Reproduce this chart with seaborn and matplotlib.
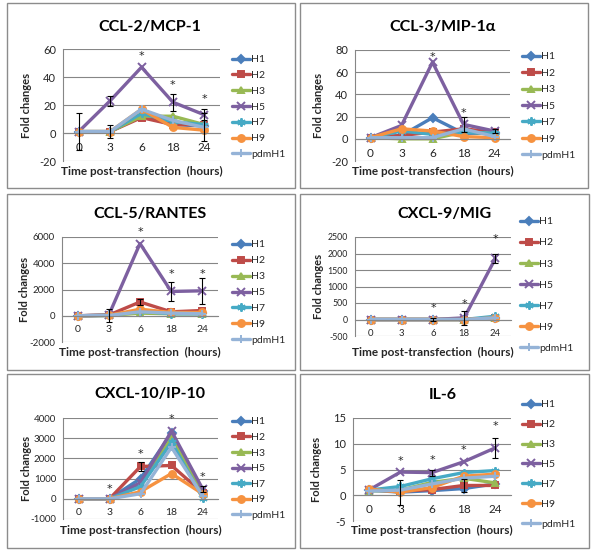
import pandas as pd
import numpy as np
import matplotlib
matplotlib.use("Agg")
import matplotlib.pyplot as plt
from matplotlib.lines import Line2D
from matplotlib.patches import Rectangle
import seaborn as sns

# ---- data ----
times = ["0", "3", "6", "18", "24"]
strains = ["H1", "H2", "H3", "H5", "H7", "H9", "pdmH1"]
colors = ["#4A7EBB", "#BE4B48", "#98B954", "#7D60A0", "#46AAC5", "#F69240", "#95B3D7"]
markers = ["D", "s", "^", "x", (6, 2, 0), "o", "+"]
msizes = [4, 4.5, 5, 6, 6, 5, 6]

# rows follow `strains`, columns follow `times`
ccl2 = [[1, 1, 12, 6, 5],
        [1, 1, 11, 6, 6],
        [1, 1, 12, 12, 6],
        [1, 23, 47, 22, 13],
        [1, 1, 14, 8, 6],
        [1, 1, 17, 4, 2],
        [1, 1, 17, 9, 4]]
ccl3 = [[1, 3, 19, 5, 5],
        [1, 3, 6, 9, 6],
        [1, 0, 0, 6, 5],
        [1, 12, 69, 13, 7],
        [1, 7, 4, 6, 5],
        [1, 9, 7, 2, 1],
        [1, 1, 1, 9, 2]]
ccl5 = [[0, 30, 300, 200, 200],
        [0, 50, 1050, 300, 400],
        [0, 20, 200, 150, 150],
        [0, 50, 5500, 1850, 1900],
        [0, 30, 350, 150, 150],
        [0, 30, 500, 250, 250],
        [0, 20, 300, 200, 150]]
cxcl9 = [[0, 0, 0, 0, 50],
         [0, 0, 0, 0, 50],
         [0, 0, 0, 0, 50],
         [0, 0, 0, 50, 1850],
         [0, 0, 0, 0, 100],
         [0, 0, 0, 0, 50],
         [0, 0, 0, 0, 50]]
cxcl10 = [[0, 0, 1000, 3250, 400],
          [0, 0, 1600, 1650, 300],
          [0, 0, 700, 3000, 300],
          [0, 0, 800, 3350, 500],
          [0, 0, 600, 2800, 50],
          [0, 0, 350, 1250, 250],
          [0, 0, 250, 2550, 150]]
il6 = [[1.0, 0.6, 0.9, 1.3, 2.2],
       [1.0, 0.8, 1.1, 1.9, 1.9],
       [0.8, 1.0, 2.5, 3.3, 2.4],
       [1.0, 4.5, 4.4, 6.5, 9.2],
       [1.0, 1.7, 3.2, 4.4, 4.8],
       [1.2, 0.6, 1.5, 3.7, 4.1],
       [0.8, 1.0, 2.2, 3.3, 3.7]]

# error bars: (strain, time index, +/- error)
ccl2_err = [("H1", 0, 13), ("H5", 1, 3.5), ("H2", 1, 4.5), ("H5", 3, 6), ("H5", 4, 4), ("pdmH1", 4, 10)]
ccl3_err = [("H5", 3, 7), ("H5", 4, 2)]
ccl5_err = [("H5", 1, 500), ("H2", 2, 250), ("H5", 3, 700), ("H5", 4, 1000)]
cxcl9_err = [("H5", 2, 50), ("H5", 3, 220), ("H5", 4, 150)]
cxcl10_err = [("H2", 2, 200), ("H5", 4, 150)]
il6_err = [("H9", 1, 2.4), ("H5", 2, 0.6), ("H2", 3, 1.3), ("H5", 4, 2.0)]

# significance stars: (time index, height)
ccl2_star = [(2, 55), (3, 34), (4, 24)]
ccl3_star = [(2, 74), (3, 23)]
ccl5_star = [(2, 6400), (3, 3200), (4, 3200)]
cxcl9_star = [(2, 340), (3, 470), (4, 2440)]
cxcl10_star = [(1, 480), (2, 2240), (3, 3950), (4, 1100)]
il6_star = [(1, 6.6), (2, 6.9), (3, 8.7), (4, 13.4)]

titles = ["CCL-2/MCP-1", "CCL-3/MIP-1\u03b1", "CCL-5/RANTES", "CXCL-9/MIG", "CXCL-10/IP-10", "IL-6"]
panel_values = [ccl2, ccl3, ccl5, cxcl9, cxcl10, il6]
panel_errs = [ccl2_err, ccl3_err, ccl5_err, cxcl9_err, cxcl10_err, il6_err]
panel_stars = [ccl2_star, ccl3_star, ccl5_star, cxcl9_star, cxcl10_star, il6_star]
panel_ylims = [(-20, 60, 20), (-20, 80, 20), (-2000, 6000, 2000),
               (-500, 2500, 500), (-1000, 4000, 1000), (-5, 15, 5)]

# ---- layout in pixels (600 x 559, y measured from top) ----
W, H = 600, 559
boxes = [(7, 3, 295, 188), (300, 3, 588, 188),
         (7, 194, 295, 370), (300, 194, 589, 370),
         (7, 374, 295, 548), (300, 374, 589, 548)]
plot_areas = [(63, 49, 220, 161), (355, 50, 510, 161),
              (62, 237, 218, 342), (355, 237, 511, 336),
              (63, 418, 218, 519), (353, 418, 511, 521)]
title_pos = [(150, 27), (443, 27), (150, 214), (444, 214), (150, 394), (443, 395)]
legend_pos = [(232, 50, 164), (522, 47, 165), (232, 235, 350),
              (520, 212, 358), (232, 412, 525), (522, 395, 534)]
xlabel_off = [10, 10, 10, 16, 11, 9]
tick_fs = [8, 8, 7, 6.3, 7, 8]

sns.set_style("white")
plt.rcParams["font.family"] = ["Lato", "DejaVu Sans"]
plt.rcParams["axes.unicode_minus"] = False

fig = plt.figure(figsize=(6, 5.59), dpi=100)
fig.patch.set_facecolor("white")

grid_col = "#868686"
text_col = "#262626"
leg_fs = 7.5
leg_px = leg_fs * 100 / 72

for i in range(6):
    bx0, by0, bx1, by1 = boxes[i]
    fig.patches.append(Rectangle((bx0 / W, 1 - by1 / H), (bx1 - bx0) / W, (by1 - by0) / H,
                                 transform=fig.transFigure, fill=False,
                                 edgecolor="#8C8C8C", lw=1.0))

    x0, y0, x1, y1 = plot_areas[i]
    ax = fig.add_axes([x0 / W, 1 - y1 / H, (x1 - x0) / W, (y1 - y0) / H])
    ax.set_facecolor("none")

    pos = np.arange(len(times))
    for s, c, m, msz, vals in zip(strains, colors, markers, msizes, panel_values[i]):
        df = pd.DataFrame({"pos": pos, "value": vals})
        sns.lineplot(data=df, x="pos", y="value", color=c, marker=m, markersize=msz,
                     mec=c, mfc=c, mew=1.4, lw=2.4, ax=ax, legend=False, sort=False)

    for s, ti, e in panel_errs[i]:
        v = panel_values[i][strains.index(s)][ti]
        ax.errorbar(ti, v, yerr=e, fmt="none", ecolor="black", elinewidth=0.8,
                    capsize=2.2, capthick=0.8, zorder=5)

    for ti, h in panel_stars[i]:
        ax.text(ti, h, "*", ha="center", va="center", fontsize=8,
                family="DejaVu Sans", color=text_col)

    ymin, ymax, step = panel_ylims[i]
    ax.set_xlim(-0.5, len(times) - 0.5)
    ax.set_ylim(ymin, ymax)
    ax.set_yticks(np.arange(ymin, ymax + step, step))
    ax.set_yticklabels([f"{v:g}" for v in np.arange(ymin, ymax + step, step)])
    ax.set_xticks(pos)
    ax.set_xticklabels(times)
    ax.set_xlabel("")
    ax.set_ylabel("")
    ax.yaxis.grid(True, color=grid_col, lw=0.8)
    ax.xaxis.grid(False)
    ax.set_axisbelow(True)
    for sp in ["top", "right"]:
        ax.spines[sp].set_visible(False)
    ax.spines["left"].set_color(grid_col)
    ax.spines["bottom"].set_color(grid_col)
    ax.spines["bottom"].set_position(("data", 0))
    ax.tick_params(axis="y", length=3, width=0.8, color=grid_col, pad=2,
                   labelsize=tick_fs[i], labelcolor=text_col)
    ax.tick_params(axis="x", length=0, pad=6.5, labelsize=tick_fs[i] + 0.5, labelcolor=text_col)

    ax.annotate("Time post-transfection  (hours)", xy=(0.5, 0), xycoords="axes fraction",
                xytext=(0, -xlabel_off[i]), textcoords="offset pixels",
                ha="center", va="center", fontsize=8.5, fontweight="bold", color=text_col)
    ax.annotate("Fold changes", xy=(0, 0.5), xycoords="axes fraction",
                xytext=(-37, 0), textcoords="offset pixels", rotation=90,
                ha="center", va="center", fontsize=8, fontweight="bold", color=text_col)

    tx, ty = title_pos[i]
    fig.text(tx / W, 1 - ty / H, titles[i], ha="center", va="center",
             fontsize=11.5, fontweight="bold", color="black")

    lx, ly_top, ly_bot = legend_pos[i]
    spacing = (ly_bot - ly_top) / 6
    handles = [Line2D([], [], color=c, marker=m, lw=2.4, markersize=msz, mec=c, mfc=c, mew=1.4)
               for c, m, msz in zip(colors, markers, msizes)]
    ax.legend(handles, strains, loc="center left",
              bbox_to_anchor=(lx / W, 1 - (ly_top + ly_bot) / 2 / H),
              bbox_transform=fig.transFigure, frameon=False, fontsize=leg_fs,
              handlelength=1.7, handletextpad=0.1, borderpad=0, borderaxespad=0,
              labelspacing=spacing / leg_px - 1.2, labelcolor=text_col)

fig.savefig("out.png", dpi=100)
